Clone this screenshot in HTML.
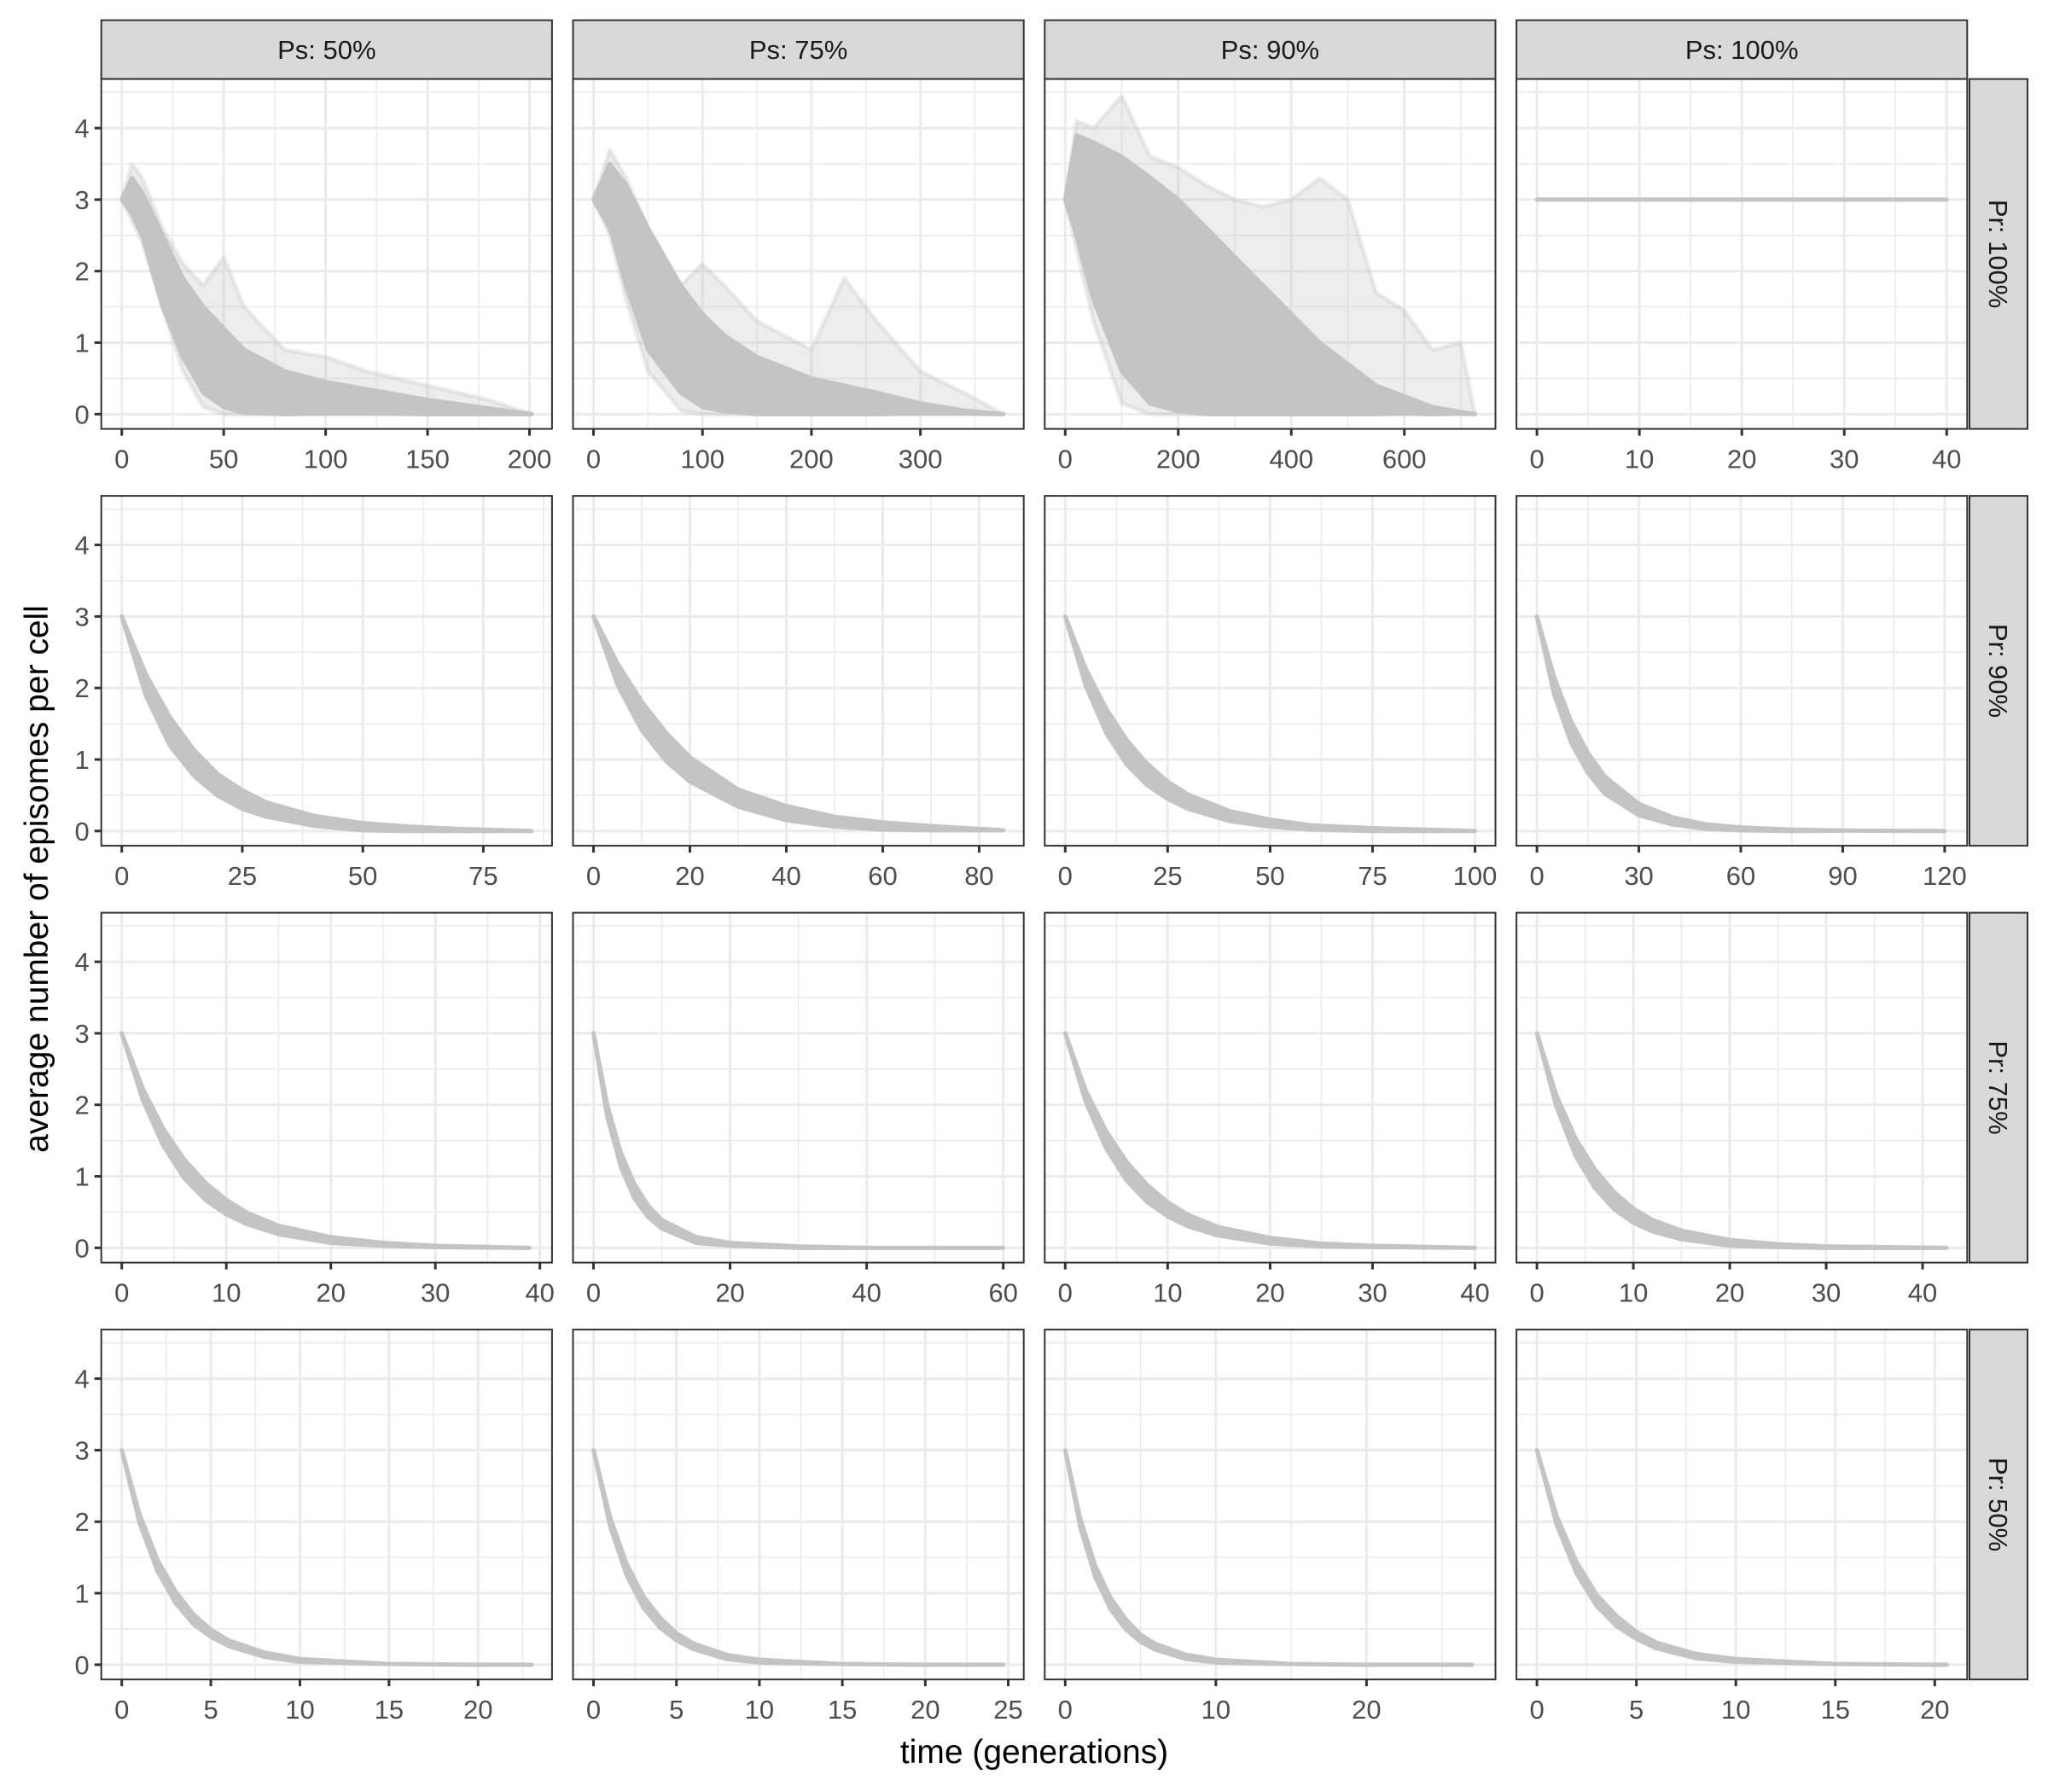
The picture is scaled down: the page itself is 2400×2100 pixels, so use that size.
<!DOCTYPE html>
<html><head><meta charset="utf-8">
<style>
html,body{margin:0;padding:0;background:#fff;}
svg{display:block;font-family:"Liberation Sans",Arial,sans-serif;}
</style></head>
<body>
<svg id="chart" width="2400" height="2100" viewBox="0 0 2400 2100" xmlns="http://www.w3.org/2000/svg">
<rect x="0" y="0" width="2400" height="2100" fill="#fff"/>
<text x="0" y="0" transform="translate(56,1030) rotate(-90)" text-anchor="middle" font-size="39" fill="#000">average number of episomes per cell</text>
<text x="1212" y="2066" text-anchor="middle" font-size="39" fill="#000">time (generations)</text>
</svg>
<script>
const colLabels = ["Ps: 50%","Ps: 75%","Ps: 90%","Ps: 100%"];
const rowLabels = ["Pr: 100%","Pr: 90%","Pr: 75%","Pr: 50%"];
const yTicks = [0,1,2,3,4];
const xMax = [201,376,725,40, 85,85,100,120.6, 39.2,60,40,42.5, 23,24.7,27.2,20.6];
const xTicks = [
 [0,50,100,150,200],[0,100,200,300],[0,200,400,600],[0,10,20,30,40],
 [0,25,50,75],[0,20,40,60,80],[0,25,50,75,100],[0,30,60,90,120],
 [0,10,20,30,40],[0,20,40,60],[0,10,20,30,40],[0,10,20,30,40],
 [0,5,10,15,20],[0,5,10,15,20,25],[0,10,20],[0,5,10,15,20]
];
const panelTimes = [
 [0,5,10,20,30,40,50,60,80,100,120,150,180,201],
 [0,15,30,50,80,100,120,150,200,230,260,300,340,376],
 [0,20,50,100,150,200,250,300,350,400,450,500,550,600,650,700,725],
 [0,40],
 [0,5,10,15,20,25,30,40,50,60,70,85],
 [0,5,10,15,20,30,40,50,60,70,85],
 [0,5,10,15,20,25,30,40,50,60,75,100],
 [0,5,10,15,20,30,40,50,60,75,90,120],
 [0,2,4,6,8,10,12,15,20,25,30,39],
 [0,2,4,6,8,10,15,20,30,40,50,60],
 [0,2,4,6,8,10,12,15,20,25,30,40],
 [0,2,4,6,8,10,12,15,20,25,30,42.5],
 [0,1,2,3,4,5,6,8,10,15,20,23],
 [0,1,2,3,4,5,6,8,10,15,20,24.7],
 [0,1,2,3,4,5,6,8,10,15,20,27],
 [0,1,2,3,4,5,6,8,10,15,20,20.6]
];
const panelMid = [
 [3,3.05,2.8,2.0,1.35,0.9,0.65,0.46,0.3,0.23,0.18,0.1,0.04,0],
 [3,3.05,2.5,1.75,1.05,0.75,0.57,0.4,0.25,0.2,0.15,0.08,0.03,0],
 [3,3.2,2.7,2.1,1.73,1.52,1.3,1.1,0.9,0.7,0.5,0.35,0.2,0.13,0.05,0.02,0],
 [3,3],
 [3,2.04,1.39,0.95,0.64,0.44,0.30,0.14,0.06,0.03,0.01,0],
 [3,2.19,1.61,1.18,0.86,0.46,0.25,0.13,0.07,0.04,0.01],
 [3,2.15,1.54,1.10,0.79,0.57,0.41,0.21,0.11,0.05,0.02,0],
 [3,2.04,1.39,0.95,0.64,0.30,0.14,0.06,0.03,0.01,0.005,0],
 [3,2.15,1.54,1.10,0.79,0.57,0.41,0.25,0.11,0.05,0.02,0],
 [3,1.92,1.23,0.79,0.51,0.33,0.11,0.05,0.01,0,0,0],
 [3,2.12,1.51,1.07,0.76,0.54,0.38,0.23,0.10,0.04,0.02,0],
 [3,2.06,1.41,0.97,0.66,0.45,0.31,0.18,0.07,0.03,0.01,0],
 [3,2.04,1.39,0.95,0.64,0.44,0.30,0.14,0.06,0.01,0,0],
 [3,2.0,1.33,0.88,0.59,0.39,0.26,0.11,0.05,0.01,0,0],
 [3,1.98,1.30,0.86,0.57,0.37,0.25,0.11,0.05,0.01,0,0],
 [3,2.01,1.35,0.90,0.61,0.41,0.27,0.12,0.06,0.01,0,0]
];
const panelSpread = [
 [0,0.25,0.3,0.5,0.55,0.6,0.55,0.44,0.3,0.22,0.17,0.1,0.04,0],
 [0,0.45,0.7,0.85,0.75,0.65,0.53,0.4,0.25,0.2,0.15,0.07,0.02,0],
 [0,0.7,1.1,1.5,1.58,1.48,1.3,1.1,0.9,0.7,0.5,0.35,0.2,0.12,0.05,0.01,0],
 [0,0],
 [0,0.15,0.2,0.18,0.15,0.13,0.1,0.07,0.05,0.03,0.02,0],
 [0,0.15,0.2,0.2,0.17,0.12,0.1,0.07,0.05,0.03,0],
 [0,0.12,0.17,0.17,0.15,0.12,0.1,0.07,0.05,0.03,0.02,0],
 [0,0.12,0.15,0.14,0.12,0.08,0.05,0.03,0.02,0.01,0,0],
 [0,0.08,0.12,0.13,0.12,0.1,0.08,0.06,0.04,0.02,0.01,0],
 [0,0.08,0.1,0.1,0.08,0.06,0.04,0.02,0.01,0,0,0],
 [0,0.08,0.12,0.13,0.12,0.1,0.08,0.06,0.04,0.02,0.01,0],
 [0,0.08,0.12,0.13,0.12,0.1,0.08,0.06,0.04,0.02,0.01,0],
 [0,0.06,0.08,0.08,0.07,0.05,0.04,0.03,0.02,0,0,0],
 [0,0.06,0.08,0.08,0.07,0.05,0.04,0.03,0.02,0,0,0],
 [0,0.06,0.08,0.08,0.07,0.05,0.04,0.03,0.02,0,0,0],
 [0,0.06,0.08,0.08,0.07,0.05,0.04,0.03,0.02,0,0,0]
];
const outerUpper = [
 [3,3.5,3.3,2.6,2.1,1.8,2.2,1.5,0.9,0.8,0.6,0.4,0.2,0],
 [3,3.7,3.3,2.6,1.8,2.1,1.8,1.3,0.9,1.9,1.3,0.6,0.3,0],
 [3,4.1,4.0,4.45,3.6,3.45,3.2,3.0,2.9,3.0,3.3,3.0,1.7,1.45,0.9,1.0,0]
];
const outerLower = [
 [3,2.7,2.4,1.5,0.6,0.1,0,0,0,0,0,0,0,0],
 [3,2.5,1.6,0.6,0.05,0,0,0,0,0,0,0,0,0],
 [3,2.3,1.3,0.15,0,0,0,0,0,0,0,0,0,0,0,0,0]
];

const NS = "http://www.w3.org/2000/svg";
const svg = document.getElementById("chart");
const P0X = 118.7, PITCHX = 552.8, PW = 528.2;
const P0Y = 92.6, PITCHY = 488.5, PH = 410;
const Y0 = -0.206, Y1 = 4.686;
function mk(tag, attrs, parent){
  const e = document.createElementNS(NS, tag);
  for (const k in attrs) e.setAttribute(k, attrs[k]);
  (parent || svg).appendChild(e);
  return e;
}
for (let c = 0; c < 4; c++) {
  const sx = P0X + c*PITCHX;
  const s = mk("rect", {x:sx, y:23.7, width:PW, height:68.9, fill:"#D9D9D9", stroke:"#333", "stroke-width":2});
  
  
  const st = mk("text", {x:sx+PW/2, y:69, "text-anchor":"middle", "font-size":31, fill:"#1A1A1A"});
  st.textContent = colLabels[c];
  
  
}
for (let r = 0; r < 4; r++) {
  const ty = P0Y + r*PITCHY;
  const s = mk("rect", {x:2308, y:ty, width:68, height:PH, fill:"#D9D9D9", stroke:"#333", "stroke-width":2});
  
  
  const st = mk("text", {x:0, y:0, transform:`translate(2331,${ty+PH/2}) rotate(90)`, "text-anchor":"middle", "font-size":31, fill:"#1A1A1A"});
  st.textContent = rowLabels[r];
  
  
}
for (let r = 0; r < 4; r++) for (let c = 0; c < 4; c++) {
  const i = r*4 + c;
  const L = P0X + c*PITCHX, T = P0Y + r*PITCHY;
  const D = xMax[i];
  const xa = -0.05*D, xb = 1.05*D;
  const X = v => L + (v - xa)/(xb - xa)*PW;
  const Y = v => T + PH - (v - Y0)/(Y1 - Y0)*PH;
  const g = mk("g", {});
  
  
  mk("rect", {x:L, y:T, width:PW, height:PH, fill:"#fff"}, g);
  const tk = xTicks[i];
  const step = tk[1] - tk[0];
  for (let v = Math.ceil(xa/(step/2))*(step/2); v <= xb; v += step/2) {
    const major = Math.abs(v/step - Math.round(v/step)) < 1e-6;
    mk("line", {x1:X(v), x2:X(v), y1:T, y2:T+PH, stroke:"#EBEBEB", "stroke-width": major?3:1.6}, g);
  }
  for (let v = 0; v <= Y1; v += 0.5) {
    const major = Math.abs(v - Math.round(v)) < 1e-6;
    mk("line", {x1:L, x2:L+PW, y1:Y(v), y2:Y(v), stroke:"#EBEBEB", "stroke-width": major?3:1.6}, g);
  }
  const t = panelTimes[i], m = panelMid[i], sp = panelSpread[i];
  if (i < 3) {
    const ou = outerUpper[i], ol = outerLower[i];
    let pts = t.map((v,k)=>X(v)+","+Y(ou[k]));
    pts = pts.concat(t.map((v,k)=>X(v)+","+Y(ol[k])).reverse());
    const o = mk("polygon", {points:pts.join(" "), fill:"#BEBEBE", "fill-opacity":0.28, stroke:"#BEBEBE", "stroke-opacity":0.28, "stroke-width":5, "stroke-linejoin":"round"}, g);
    
    
  }
  let pts = t.map((v,k)=>X(v)+","+Y(m[k]+sp[k]));
  pts = pts.concat(t.map((v,k)=>X(v)+","+Y(Math.max(0, m[k]-sp[k]))).reverse());
  const band = mk("polygon", {points:pts.join(" "), fill:"#C4C4C4", stroke:"#C4C4C4", "stroke-width":5, "stroke-linejoin":"round"}, g);
  
  
  mk("rect", {x:L, y:T, width:PW, height:PH, fill:"none", stroke:"#333", "stroke-width":2}, g);
  tk.forEach(v => {
    mk("line", {x1:X(v), x2:X(v), y1:T+PH, y2:T+PH+8, stroke:"#333", "stroke-width":3}, g);
    const lb = mk("text", {x:X(v), y:T+PH+46, "text-anchor":"middle", "font-size":31, fill:"#4D4D4D"}, g);
    lb.textContent = v;
    
    
  });
  if (c === 0) {
    yTicks.forEach(v => {
      mk("line", {x1:L-8, x2:L, y1:Y(v), y2:Y(v), stroke:"#333", "stroke-width":3}, g);
      const lb = mk("text", {x:L-14, y:Y(v)+11, "text-anchor":"end", "font-size":31, fill:"#4D4D4D"}, g);
      lb.textContent = v;
      
      
    });
  }
}
</script>
</body></html>
